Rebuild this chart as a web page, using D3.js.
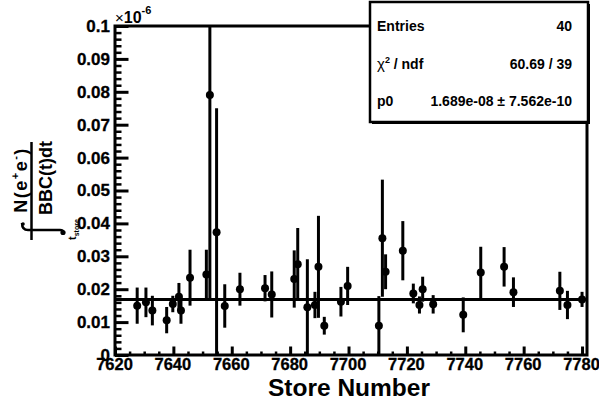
<!DOCTYPE html>
<html><head><meta charset="utf-8">
<script src="https://cdn.jsdelivr.net/npm/d3@7"></script>
<style>
body{margin:0;background:#fff}
svg{display:block}
text{font-family:"Liberation Sans",Arial,Helvetica,sans-serif}
</style>
</head><body>
<svg id="c" width="599" height="400"></svg>
<script>
// ---- data (y in units of 1e-6) ----
const stores = [7627.6,7630.6,7632.8,7637.7,7639.8,7641.9,7642.6,7645.7,7651.3,7652.5,
  7654.8,7657.6,7662.8,7671.4,7673.7,7681.4,7682.6,7685.9,7688.5,7689.7,
  7691.7,7697.4,7699.7,7710.4,7711.6,7712.7,7718.6,7722.2,7724.3,7725.4,
  7729.0,7739.3,7745.3,7753.3,7756.5,7772.4,7775.0,7780.0];
const values = [0.0150,0.0160,0.0135,0.0106,0.0155,0.0177,0.0135,0.0235,0.0245,0.0790,
  0.0373,0.0149,0.0200,0.0203,0.0184,0.0231,0.0276,0.0145,0.0152,0.0268,
  0.0089,0.0162,0.0210,0.0089,0.0355,0.0253,0.0317,0.0187,0.0152,0.0200,
  0.0154,0.0122,0.0251,0.0268,0.0191,0.0195,0.0152,0.0169];
const errors = [0.0055,0.0045,0.0045,0.0040,0.0025,0.0042,0.0040,0.0085,0.0075,0.0626,
  0.0377,0.0066,0.0050,0.0040,0.0070,0.0087,0.0110,0.0146,0.0040,0.0155,
  0.0027,0.0045,0.0058,0.0090,0.0178,0.0053,0.0090,0.0030,0.0026,0.0038,
  0.0028,0.0053,0.0078,0.0060,0.0045,0.0058,0.0043,0.0023];
const fitP0 = 0.01689;
const xTickValues = [7620,7640,7660,7680,7700,7720,7740,7760,7780];
const xMinorValues = d3.range(7625,7781,5).filter(v => v % 20 !== 0);
const yTickValues = [0,0.01,0.02,0.03,0.04,0.05,0.06,0.07,0.08,0.09,0.1];
const yMinorValues = d3.range(1,50).map(i => i*0.002).filter((v,i) => (i+1) % 5 !== 0);
const statsLabels = ["Entries","χ² / ndf","p0"];
const statsValues = ["40","60.69 / 39","1.689e-08 ± 7.562e-10"];
const xTitle = "Store Number";

// ---- layout ----
const svg = d3.select("#c");
const L=115, R=587, T=26, B=355;
const x = d3.scaleLinear().domain([7620,7781.7]).range([L,R]);
const y = d3.scaleLinear().domain([0,0.1]).range([B,T]);
const FONT = '"Liberation Sans",Arial,Helvetica,sans-serif';

svg.append("rect").attr("width",599).attr("height",400).attr("fill","#fff");

svg.append("clipPath").attr("id","pc").append("rect")
  .attr("x",L).attr("y",T).attr("width",R-L).attr("height",B-T);
const plot = svg.append("g").attr("clip-path","url(#pc)");

// fit line
plot.append("line").attr("x1",L).attr("x2",R).attr("y1",y(fitP0)).attr("y2",y(fitP0))
  .attr("stroke","#000").attr("stroke-width",3);

const pts = stores.map((s,i)=>({s, v:values[i], e:errors[i]}));
plot.selectAll("line.err").data(pts).enter().append("line").attr("class","err")
  .attr("x1",d=>x(d.s)).attr("x2",d=>x(d.s))
  .attr("y1",d=>y(d.v+d.e)).attr("y2",d=>y(Math.max(0,d.v-d.e)))
  .attr("stroke","#000").attr("stroke-width",3);
plot.selectAll("circle.pt").data(pts).enter().append("circle").attr("class","pt")
  .attr("cx",d=>x(d.s)).attr("cy",d=>y(d.v)).attr("r",4).attr("fill","#000");

// axes
function styleAxis(g, w, fs){
  g.select(".domain").remove();
  g.selectAll(".tick line").attr("stroke","#000").attr("stroke-width",w);
  g.attr("font-family",FONT).attr("font-size",fs).attr("font-weight","bold");
  g.selectAll(".tick text").attr("fill","#000").attr("stroke","#000").attr("stroke-width",0.3);
}
svg.append("g").attr("transform",`translate(0,${B})`)
  .call(d3.axisBottom(x).tickValues(xMinorValues).tickSize(-3.5).tickFormat(""))
  .call(g=>styleAxis(g,2.5,17));
svg.append("g").attr("transform",`translate(0,${B})`)
  .call(d3.axisBottom(x).tickValues(xTickValues).tickSize(-8.5).tickPadding(3).tickFormat(d3.format("d")))
  .call(g=>{ styleAxis(g,3,16.5); g.selectAll(".tick text").attr("dx",-1); });
svg.append("g").attr("transform",`translate(${L},0)`)
  .call(d3.axisLeft(y).tickValues(yMinorValues).tickSize(-6.5).tickFormat(""))
  .call(g=>styleAxis(g,2.5,17));
svg.append("g").attr("transform",`translate(${L},0)`)
  .call(d3.axisLeft(y).tickValues(yTickValues).tickSize(-13.5).tickPadding(5)
    .tickFormat(d => d===0 ? "0" : String(+d.toFixed(2))))
  .call(g=>styleAxis(g,3,17));

// frame
svg.append("rect").attr("x",L).attr("y",T).attr("width",R-L).attr("height",B-T)
  .attr("fill","none").attr("stroke","#000").attr("stroke-width",3);

// exponent label
const ex = svg.append("text").attr("x",L).attr("y",23).attr("font-family",FONT).attr("fill","#000");
ex.append("tspan").attr("font-size",15).text("×");
ex.append("tspan").attr("font-size",16).attr("font-weight","bold").text("10");
ex.append("tspan").attr("font-size",11).attr("font-weight","bold").attr("dy",-9).text("-6");

// x title
svg.append("text").attr("x",(L+R)/2-2).attr("y",396).attr("text-anchor","middle")
  .attr("font-family",FONT).attr("font-size",24.5).attr("font-weight","bold").attr("fill","#000").text(xTitle);

// y title (rotated fraction with integral)
const yt = svg.append("g").attr("transform","rotate(-90)").attr("font-family",FONT)
  .attr("font-weight","bold").attr("fill","#000");
const num = yt.append("text").attr("x",-180).attr("y",27).attr("text-anchor","middle")
  .attr("font-size",18).attr("letter-spacing",1.5);
num.append("tspan").text("N(e");
num.append("tspan").attr("font-size",11).attr("dy",-8).text("+");
num.append("tspan").attr("dy",8).text("e");
num.append("tspan").attr("font-size",11).attr("dy",-8).text("-");
num.append("tspan").attr("dy",8).text(")");
yt.append("text").attr("x",-178).attr("y",52).attr("text-anchor","middle").attr("font-size",18).text("BBC(t)dt");
const lim = yt.append("text").attr("x",-240).attr("y",76).attr("font-size",11);
lim.append("tspan").text("t");
lim.append("tspan").attr("font-size",7).attr("dy",3).text("store");
svg.append("line").attr("x1",31.5).attr("x2",31.5).attr("y1",142).attr("y2",240)
  .attr("stroke","#000").attr("stroke-width",2.5);
svg.append("path").attr("d","M22,223 Q22,230 28,230 L60,230 Q63,230 63,232")
  .attr("fill","none").attr("stroke","#000").attr("stroke-width",2.5);
svg.append("circle").attr("cx",63).attr("cy",232.5).attr("r",2.6).attr("fill","#000");
svg.append("circle").attr("cx",23).attr("cy",224).attr("r",1.8).attr("fill","#000");

// stats box
const bx=370, by=2, bw=218, bh=120;
svg.append("rect").attr("x",bx+2).attr("y",by+2).attr("width",bw).attr("height",bh).attr("fill","#000");
svg.append("rect").attr("x",bx).attr("y",by).attr("width",bw).attr("height",bh)
  .attr("fill","#fff").attr("stroke","#000").attr("stroke-width",2.5);
const rowY = [31,69,106];
statsLabels.forEach((t,i)=>{
  const tx = svg.append("text").attr("x",377).attr("y",rowY[i]).attr("font-family",FONT)
    .attr("font-size",14).attr("font-weight","bold").attr("fill","#000");
  if (t.startsWith("χ")) {
    tx.append("tspan").attr("font-weight","normal").attr("font-size",15).text("χ");
    tx.append("tspan").attr("font-size",9).attr("dy",-6).text("2");
    tx.append("tspan").attr("dy",6).text(" / ndf");
  } else tx.text(t);
  svg.append("text").attr("x",572).attr("y",rowY[i]).attr("text-anchor","end").attr("font-family",FONT)
    .attr("font-size",14).attr("font-weight","bold").attr("fill","#000").text(statsValues[i]);
});
</script>
</body></html>
